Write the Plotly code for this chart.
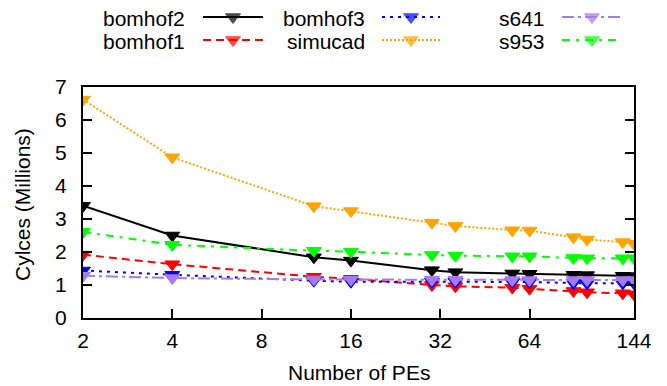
import plotly.graph_objects as go

# ---------------- data ----------------
pes = [2, 4, 12, 16, 30, 36, 56, 64, 90, 100, 132, 144]
bomhof2 = [3.40, 2.50, 1.84, 1.74, 1.45, 1.39, 1.35, 1.34, 1.31, 1.30, 1.28, 1.27]
bomhof1 = [1.92, 1.63, 1.25, 1.19, 1.00, 0.96, 0.92, 0.89, 0.82, 0.78, 0.75, 0.72]
bomhof3 = [1.44, 1.31, 1.13, 1.10, 1.10, 1.10, 1.09, 1.09, 1.06, 1.05, 1.05, 1.05]
simucad = [6.62, 4.87, 3.39, 3.24, 2.89, 2.79, 2.66, 2.65, 2.45, 2.38, 2.30, 2.25]
s641 = [1.28, 1.21, 1.17, 1.16, 1.16, 1.16, 1.15, 1.15, 1.15, 1.15, 1.15, 1.15]
s953 = [2.61, 2.22, 2.04, 2.01, 1.91, 1.89, 1.87, 1.87, 1.82, 1.81, 1.81, 1.81]

x_ticks = [2, 4, 8, 16, 32, 64, 144]
y_ticks = [0, 1, 2, 3, 4, 5, 6, 7]

series_names = ["bomhof2", "bomhof1", "bomhof3", "simucad", "s641", "s953"]
series_values = [bomhof2, bomhof1, bomhof3, simucad, s641, s953]

# ---------------- styles ----------------
colors = ["#000000", "#FF0000", "#0000FF", "#FFA500", "#A57BEF", "#00FF00"]
dashes = ["solid", "8px,5px", "3px,5px", "2px,2px", "12px,4px,3px,4px", "8px,6px,3px,6px"]
FONT = "Liberation Sans, Arial, sans-serif"
FS = 21
MS = 13

W, H = 667, 386
PL, PR, PT, PB = 83, 634, 87, 318  # plot area in px

fig = go.Figure()
for name, vals, c, d in zip(series_names, series_values, colors, dashes):
    fig.add_trace(go.Scatter(
        x=pes, y=vals, mode="lines+markers", name=name,
        line=dict(color=c, width=2, dash=d),
        marker=dict(symbol="triangle-down", size=MS, color=c, line=dict(color=c, width=1)),
        showlegend=False, xaxis="x", yaxis="y"))

# ---------------- custom legend (gnuplot style: text then sample) ----------------
leg_text_right = [187, 187, 367, 367, 547, 547]
leg_x0 = [203, 203, 382, 382, 562, 562]
leg_x1 = [263, 263, 440, 440, 622, 622]
leg_y = [17, 40, 17, 40, 17, 40]
annotations = []
for i, (name, c, d) in enumerate(zip(series_names, colors, dashes)):
    xm = (leg_x0[i] + leg_x1[i]) / 2
    fig.add_trace(go.Scatter(
        x=[leg_x0[i], xm, leg_x1[i]], y=[leg_y[i]] * 3, mode="lines+markers",
        line=dict(color=c, width=2, dash=d),
        marker=dict(symbol="triangle-down", size=[0, MS, 0], color=c,
                    line=dict(color=c, width=[0, 1, 0])),
        showlegend=False, xaxis="x2", yaxis="y2", hoverinfo="skip"))
    annotations.append(dict(
        x=leg_text_right[i], y=leg_y[i] + 1, xref="x2", yref="y2", text=name,
        showarrow=False, xanchor="right", yanchor="middle",
        font=dict(family=FONT, size=FS, color="black")))

annotations.append(dict(
    x=(PL + PR) / 2 / W, y=(H - 372) / H, xref="paper", yref="paper",
    text="Number of PEs", showarrow=False, xanchor="center", yanchor="middle",
    font=dict(family=FONT, size=FS, color="black")))
annotations.append(dict(
    x=22 / W, y=(H - 205) / H, xref="paper", yref="paper",
    text="Cylces (Millions)", showarrow=False, textangle=-90,
    xanchor="center", yanchor="middle",
    font=dict(family=FONT, size=FS, color="black")))

fig.update_layout(
    width=W, height=H, autosize=False,
    margin=dict(l=0, r=0, t=0, b=0),
    paper_bgcolor="white", plot_bgcolor="rgba(0,0,0,0)",
    font=dict(family=FONT, size=FS, color="black"),
    annotations=annotations,
    xaxis=dict(
        type="log", domain=[PL / W, PR / W], range=[0.30103, 2.158362],
        tickvals=x_ticks, ticktext=[str(v) for v in x_ticks],
        ticks="inside", ticklen=9, tickwidth=1.5, tickcolor="black",
        showline=True, linecolor="black", linewidth=2, mirror=True,
        showgrid=False, zeroline=False, automargin=False,
        ticklabelstandoff=3, anchor="y"),
    yaxis=dict(
        domain=[(H - PB) / H, (H - PT) / H], range=[0, 7],
        tickvals=y_ticks, ticks="inside", ticklen=9, tickwidth=1.5, tickcolor="black",
        showline=True, linecolor="black", linewidth=2, mirror="ticks",
        showgrid=False, zeroline=False, automargin=False,
        ticklabelstandoff=10, anchor="x"),
    xaxis2=dict(domain=[0, 1], range=[0, W], visible=False, anchor="y2", fixedrange=True),
    yaxis2=dict(domain=[0, 1], range=[H, 0], visible=False, anchor="x2", fixedrange=True),
)

fig.write_html("out.html")
